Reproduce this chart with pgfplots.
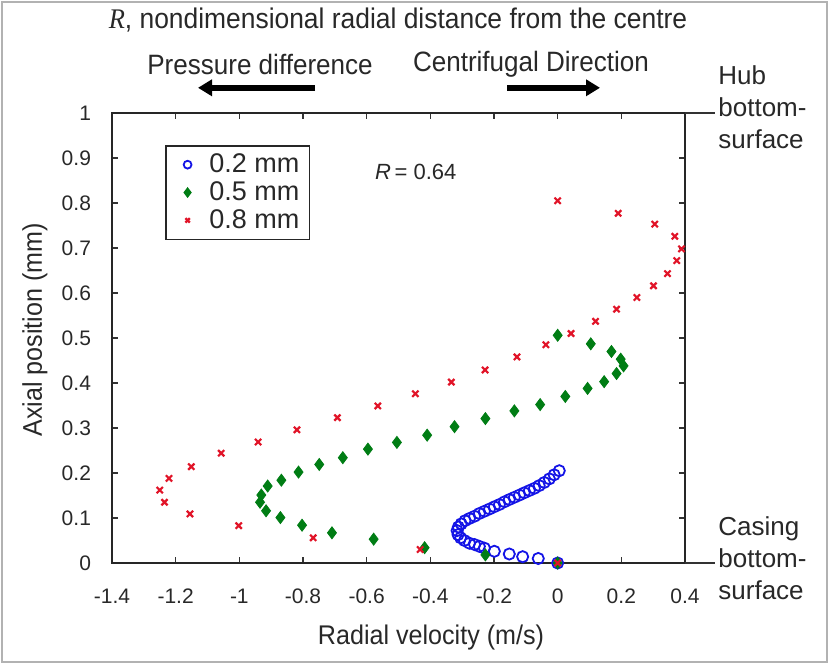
\documentclass[border=0pt]{standalone}
\usepackage{fontspec}
\setmainfont{Liberation Sans}
\newfontfamily\serif{Liberation Serif}
\usepackage{pgfplots}
\pgfplotsset{compat=1.18}
\usetikzlibrary{arrows.meta}
\definecolor{txt}{RGB}{40,40,40}
\definecolor{mblue}{RGB}{20,20,230}
\definecolor{mgreen}{RGB}{0,125,20}
\definecolor{mred}{RGB}{225,20,40}
\newcommand{\narrow}[1]{\scalebox{0.93}[1]{#1}}

\begin{document}
\begin{tikzpicture}[font=\fontsize{10.5}{12.5}\selectfont, text=txt]
\useasboundingbox (-56pt,-50.5pt) rectangle (358.5pt,281.5pt);
\draw[gray!60, line width=1pt] (-55pt,-49.5pt) rectangle (357.5pt,280.5pt);
\begin{axis}[
    at={(0,0)}, anchor=south west,
    scale only axis, width=286.5pt, height=225pt,
    xmin=-1.4, xmax=0.4, ymin=0, ymax=1,
    xtick={-1.4,-1.2,-1,-0.8,-0.6,-0.4,-0.2,0,0.2,0.4},
    xticklabels={-1.4,-1.2,-1,-0.8,-0.6,-0.4,-0.2,0,0.2,0.4},
    ytick={0,0.1,0.2,0.3,0.4,0.5,0.6,0.7,0.8,0.9,1},
    yticklabels={0,0.1,0.2,0.3,0.4,0.5,0.6,0.7,0.8,0.9,1},
    tick align=inside, major tick length=3pt,
    axis background/.style={draw=black!85, line width=1pt},
    axis line style={draw=black!85, line width=1pt},
    tick style={line width=0.8pt, black!80},
    xticklabel style={yshift=-9.5pt},
    yticklabel style={xshift=-7pt},
    clip=false,
    legend style={at={(0.0925,0.929)}, anchor=north west, draw=black!85,
        line width=0.8pt, inner xsep=3pt, inner ysep=2pt, row sep=-1pt,
        font=\fontsize{13.5}{14}\selectfont},
    legend cell align=left,
    legend image code/.code={
        \path (0pt,0pt) (16pt,0pt);
        \draw[#1, only marks, every mark/.append style={scale=0.7}] plot coordinates {(7.5pt,0pt)};
    },
]
% 0.2 mm
\addplot[only marks, mark=o, mark size=2.8pt, mark options={line width=0.9pt}, color=mblue] coordinates {
    (0.005,0.205) (-0.011,0.196) (-0.026,0.187) (-0.042,0.179) (-0.058,0.172)
    (-0.073,0.166) (-0.089,0.161) (-0.105,0.156) (-0.120,0.151) (-0.136,0.146)
    (-0.152,0.141) (-0.167,0.136) (-0.183,0.130) (-0.199,0.125) (-0.214,0.120)
    (-0.230,0.115) (-0.246,0.110) (-0.261,0.104) (-0.277,0.099) (-0.291,0.094)
    (-0.303,0.087) (-0.312,0.080) (-0.316,0.072) (-0.313,0.063) (-0.305,0.056)
    (-0.293,0.050) (-0.277,0.044) (-0.261,0.041) (-0.246,0.037) (-0.230,0.033)
    (-0.199,0.026) (-0.152,0.020) (-0.110,0.014) (-0.061,0.010) (0,0)
};
\addlegendentry{0.2 mm}
% 0.5 mm
\addplot[only marks, mark=diamond*, mark size=3pt, color=mgreen] coordinates {
    (0.000,0.506) (0.104,0.487) (0.169,0.470) (0.198,0.453) (0.207,0.438)
    (0.185,0.421) (0.146,0.403) (0.094,0.388) (0.024,0.370) (-0.055,0.352)
    (-0.136,0.338) (-0.227,0.321) (-0.324,0.303) (-0.410,0.284) (-0.505,0.268)
    (-0.596,0.253) (-0.675,0.234) (-0.749,0.219) (-0.814,0.202) (-0.868,0.184)
    (-0.911,0.171) (-0.931,0.151) (-0.935,0.135) (-0.916,0.116) (-0.871,0.101)
    (-0.803,0.084) (-0.709,0.067) (-0.578,0.053) (-0.418,0.034) (-0.227,0.018)
    (0,0)
};
\addlegendentry{0.5 mm}
% 0.8 mm
\addplot[only marks, mark=x, mark size=2.2pt, mark options={line width=1.1pt}, color=mred] coordinates {
    (0.000,0.805) (0.190,0.777) (0.305,0.753) (0.368,0.726) (0.389,0.698)
    (0.374,0.672) (0.345,0.643) (0.301,0.616) (0.249,0.590) (0.185,0.564)
    (0.119,0.537) (0.042,0.510) (-0.037,0.485) (-0.128,0.458) (-0.228,0.429)
    (-0.334,0.402) (-0.447,0.376) (-0.565,0.349) (-0.692,0.323) (-0.819,0.296)
    (-0.941,0.269) (-1.057,0.244) (-1.151,0.214) (-1.221,0.188) (-1.250,0.162)
    (-1.235,0.135) (-1.155,0.109) (-1.002,0.083) (-0.768,0.056) (-0.432,0.030)
    (0,0)
};
\addlegendentry{0.8 mm}
\end{axis}
% annotations (1 px of the reference = 0.5pt)
\node[anchor=west] at (128pt,195.6pt) {\fontsize{11}{13}\selectfont\textit{R}\,= 0.64};
\node at (143pt,271.7pt) {\narrow{\fontsize{14.2}{16}\selectfont{\serif\itshape R}, nondimensional radial distance from the centre}};
\node at (74pt,249.5pt) {\narrow{\fontsize{14}{16}\selectfont Pressure difference}};
\node at (209.5pt,249.5pt) {\narrow{\fontsize{14}{16}\selectfont Centrifugal Direction}};
\draw[line width=3pt, -{Triangle[length=7pt,width=8pt]}] (101.5pt,237.6pt) -- (43pt,237.6pt);
\draw[line width=3pt, -{Triangle[length=7pt,width=8pt]}] (197.5pt,237.6pt) -- (244pt,237.6pt);
\draw[line width=0.8pt, black!80] (286.5pt,225pt) -- (301.5pt,225pt);
\draw[line width=0.8pt, black!80] (286.5pt,0pt) -- (301.5pt,0pt);
\node[anchor=west, align=left, font=\fontsize{13}{16}\selectfont, inner sep=1pt] at (302pt,228pt) {Hub\\bottom-\\surface};
\node[anchor=west, align=left, font=\fontsize{13}{16}\selectfont, inner sep=1pt] at (302pt,2.6pt) {Casing\\bottom-\\surface};
\node at (159.5pt,-37.5pt) {\narrow{\fontsize{13.5}{15}\selectfont Radial velocity (m/s)}};
\node[rotate=90] at (-38.5pt,116.6pt) {\narrow{\fontsize{13.5}{15}\selectfont Axial position (mm)}};
\end{tikzpicture}
\end{document}
